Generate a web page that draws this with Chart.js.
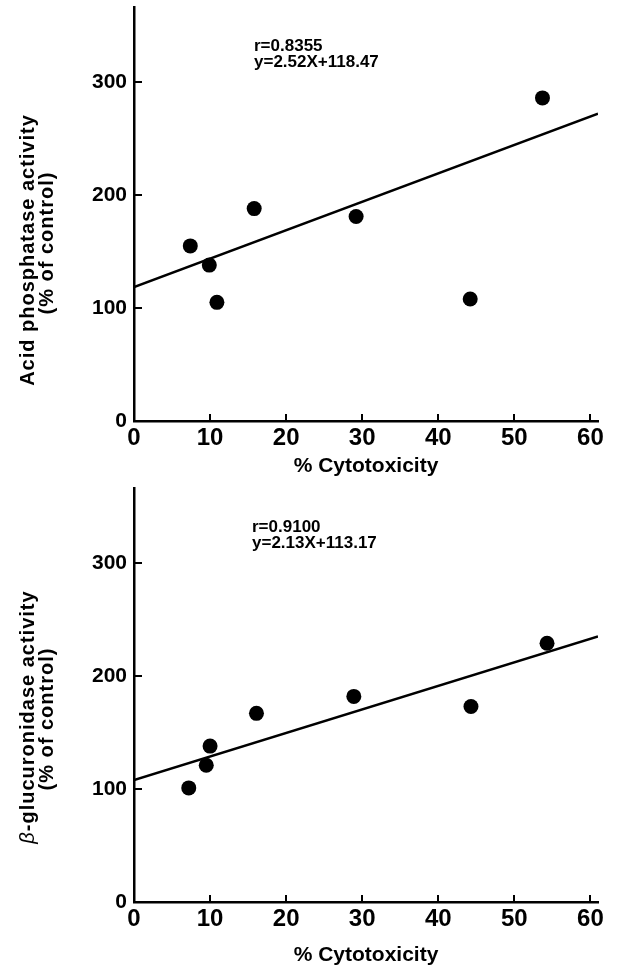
<!DOCTYPE html>
<html><head><meta charset="utf-8">
<script src="https://cdn.jsdelivr.net/npm/chart.js@4.4.1/dist/chart.umd.min.js"></script>
<style>html,body{margin:0;padding:0;background:#fff;} canvas{display:block;}</style>
</head><body>
<canvas id="c1" width="617" height="481"></canvas>
<canvas id="c2" width="617" height="485"></canvas>
<script>
// ---- data ----
const xTicks = [0, 10, 20, 30, 40, 50, 60];
const yTicks = [0, 100, 200, 300];
const acidX = [7.4, 9.9, 10.9, 15.8, 29.2, 44.2, 53.7];
const acidY = [155, 138, 105, 188, 181, 108, 286];
const acidFitX = [0, 61];
const acidFitY = [118.5, 272];
const glucX = [7.2, 9.5, 10.0, 16.1, 28.9, 44.3, 54.3];
const glucY = [101, 121, 138, 167, 182, 173, 229];
const glucFitX = [0, 61];
const glucFitY = [108, 235];
const acidStats = ['r=0.8355', 'y=2.52X+118.47'];
const glucStats = ['r=0.9100', 'y=2.13X+113.17'];
const xTitle = '% Cytotoxicity';
const acidTitle = ['Acid phosphatase activity', '(% of control)'];
const glucTitle = ['\u03B2', '-glucuronidase activity', '(% of control)'];

const FONT = "'Liberation Sans', Arial, Helvetica, sans-serif";

const zip = (xs, ys) => xs.map((x, i) => ({x, y: ys[i]}));

const inwardTicks = {
  id: 'inwardTicks',
  afterDraw(chart) {
    const {ctx, chartArea, scales} = chart;
    ctx.save();
    ctx.strokeStyle = '#000';
    ctx.lineWidth = 2;
    xTicks.forEach(v => {
      if (v === 0) return;
      const px = Math.round(scales.x.getPixelForValue(v));
      ctx.beginPath(); ctx.moveTo(px, chartArea.bottom); ctx.lineTo(px, chartArea.bottom - 7); ctx.stroke();
    });
    yTicks.forEach(v => {
      if (v === 0) return;
      const py = Math.round(scales.y.getPixelForValue(v));
      ctx.beginPath(); ctx.moveTo(chartArea.left, py); ctx.lineTo(chartArea.left + 8, py); ctx.stroke();
    });
    ctx.restore();
  }
};

const textPlugin = {
  id: 'textPlugin',
  afterDraw(chart, args, o) {
    const ctx = chart.ctx;
    ctx.save();
    ctx.fillStyle = '#000';
    // stats annotation
    ctx.font = 'bold 17px ' + FONT;
    ctx.textAlign = 'left';
    ctx.textBaseline = 'alphabetic';
    ctx.fillText(o.stats[0], o.statsX, o.statsY[0]);
    ctx.fillText(o.stats[1], o.statsX, o.statsY[1]);
    // rotated y title
    o.lines.forEach(line => {
      ctx.save();
      ctx.translate(line.x, line.cy);
      ctx.rotate(-Math.PI / 2);
      ctx.textBaseline = 'alphabetic';
      ctx.textAlign = 'left';
      if ('letterSpacing' in ctx) ctx.letterSpacing = '1px';
      let total = 0;
      line.parts.forEach(p => { ctx.font = p.font; total += ctx.measureText(p.t).width; });
      let cx = -total / 2;
      line.parts.forEach(p => { ctx.font = p.font; ctx.fillText(p.t, cx, 0); cx += ctx.measureText(p.t).width; });
      ctx.restore();
    });
    ctx.restore();
  }
};

function makeChart(id, px, py, fx, fy, xScaleH, titlePadBottom, textOpts) {
  return new Chart(document.getElementById(id), {
    data: {
      datasets: [
        {type: 'scatter', data: zip(px, py), backgroundColor: '#000', borderWidth: 0, pointRadius: 7.5, pointHoverRadius: 7.5, order: 1},
        {type: 'line', data: zip(fx, fy), borderColor: '#000', borderWidth: 2.5, pointRadius: 0, fill: false, order: 2}
      ]
    },
    options: {
      responsive: false,
      animation: false,
      events: [],
      layout: {padding: {left: 0, right: 19, top: 7, bottom: 0}},
      plugins: {legend: {display: false}, tooltip: {enabled: false}, textPlugin: textOpts},
      scales: {
        x: {
          type: 'linear', min: 0, max: 61,
          afterBuildTicks: s => { s.ticks = xTicks.map(v => ({value: v})); },
          afterFit: s => { s.height = xScaleH; s.paddingLeft = 0; s.paddingRight = 0; },
          grid: {display: false, drawTicks: false},
          border: {display: true, color: '#000', width: 2.5},
          ticks: {color: '#000', padding: 3, maxRotation: 0, autoSkip: false, font: {family: FONT, size: 24, weight: 'bold'}},
          title: {display: true, text: xTitle, color: '#000', font: {family: FONT, size: 21, weight: 'bold', lineHeight: 1}, padding: {top: 0, bottom: titlePadBottom}}
        },
        y: {
          type: 'linear', min: 0, max: 366,
          afterBuildTicks: s => { s.ticks = yTicks.map(v => ({value: v})); },
          afterFit: s => { s.width = 134; s.paddingTop = 0; s.paddingBottom = 0; },
          grid: {display: false, drawTicks: false},
          border: {display: true, color: '#000', width: 2.5},
          ticks: {color: '#000', padding: 7, font: {family: FONT, size: 21, weight: 'bold'}}
        }
      }
    },
    plugins: [inwardTicks, textPlugin]
  });
}

const B = 'bold 20px ' + FONT;
makeChart('c1', acidX, acidY, acidFitX, acidFitY, 60, 4, {
  stats: acidStats, statsX: 254, statsY: [51, 67],
  lines: [
    {x: 34, cy: 250, parts: [{t: acidTitle[0], font: B}]},
    {x: 53, cy: 243, parts: [{t: acidTitle[1], font: B}]}
  ]
});
makeChart('c2', glucX, glucY, glucFitX, glucFitY, 64, 0, {
  stats: glucStats, statsX: 252, statsY: [51, 67],
  lines: [
    {x: 34, cy: 236, parts: [{t: glucTitle[0], font: 'italic 20px ' + FONT}, {t: glucTitle[1], font: B}]},
    {x: 53, cy: 238, parts: [{t: glucTitle[2], font: B}]}
  ]
});
</script>
</body></html>
